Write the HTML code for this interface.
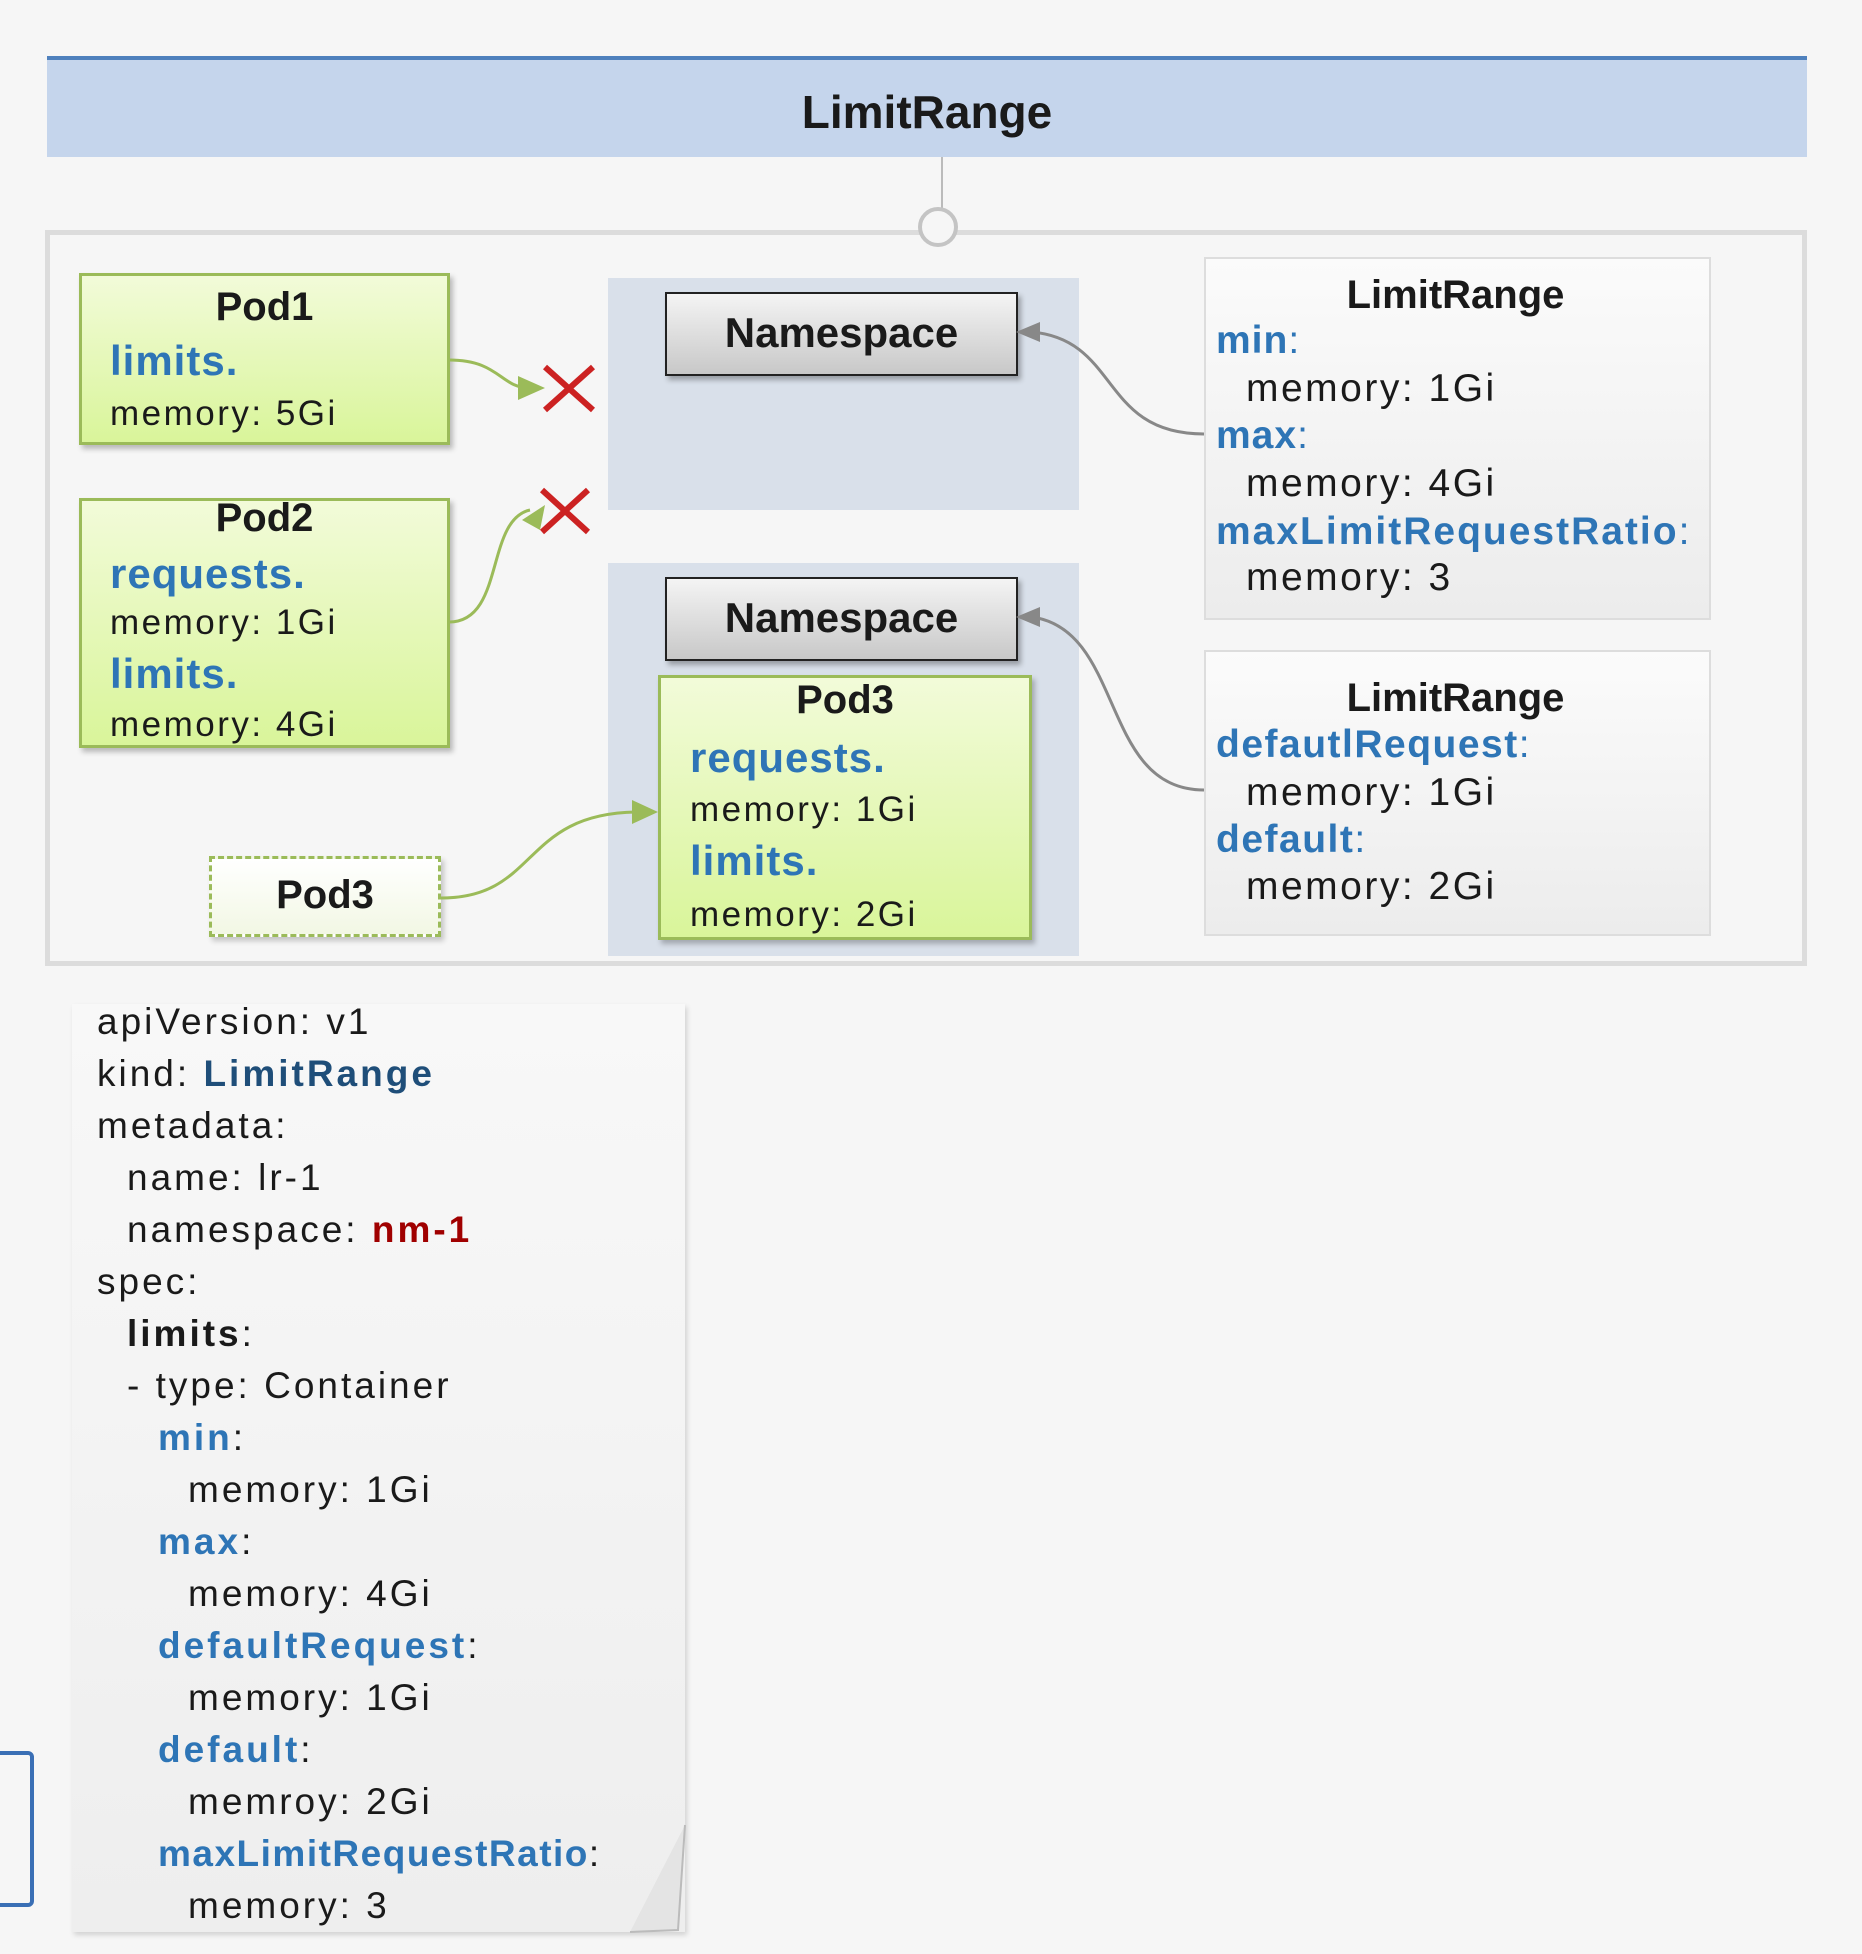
<!DOCTYPE html>
<html><head><meta charset="utf-8"><style>
body{margin:0;width:1862px;height:1954px;background:#f6f6f6;position:relative;overflow:hidden;font-family:"Liberation Sans","Noto Sans CJK KR",sans-serif;color:#1a1a1a}
.a{position:absolute}
.t{position:absolute;white-space:nowrap;line-height:48px;height:48px}
.m{letter-spacing:2.5px}
.b{color:#2e75b6;font-weight:bold}
.pod{position:absolute;border:3px solid #9bbb59;background:linear-gradient(#f2fbd9,#d9f59a);box-shadow:3px 4px 5px rgba(0,0,0,.25)}
.ns{position:absolute;border:2px solid #222;background:linear-gradient(#f4f4f4,#c8c8c8);box-shadow:3px 4px 5px rgba(0,0,0,.3);font-weight:bold;font-size:42px;text-align:center;line-height:78px}
.lr{position:absolute;border:2px solid #ddd;background:linear-gradient(#fbfbfb,#ececec)}
.y .t{letter-spacing:3px}
</style></head><body>
<div class="a" style="left:47px;top:56px;width:1760px;height:101px;background:#c5d5ec;border-top:4px solid #4f81bd;box-sizing:border-box"></div>
<div class="t" style="left:47px;width:1760px;text-align:center;top:88px;font-size:46px;font-weight:bold">LimitRange</div>
<div class="a" style="left:45px;top:230px;width:1762px;height:736px;border:5px solid #dcdcdc;box-sizing:border-box"></div>
<div class="a" style="left:941px;top:157px;width:2px;height:54px;background:#bbb"></div>
<div class="a" style="left:918px;top:207px;width:40px;height:40px;border:4px solid #c4c4c4;border-radius:50%;background:#f6f6f6;box-sizing:border-box"></div>

<div class="a" style="left:608px;top:278px;width:471px;height:232px;background:#d9e0ea"></div>
<div class="a" style="left:608px;top:563px;width:471px;height:393px;background:#d9e0ea"></div>
<div class="ns" style="left:665px;top:292px;width:349px;height:80px">Namespace</div>
<div class="ns" style="left:665px;top:577px;width:349px;height:80px">Namespace</div>

<div class="pod" style="left:79px;top:273px;width:365px;height:166px"></div>
<div class="t" style="left:79px;width:371px;text-align:center;top:283px;font-size:40px;font-weight:bold">Pod1</div>
<div class="t b m" style="left:110px;top:337px;font-size:42px;letter-spacing:1px">limits.</div>
<div class="t m" style="left:110px;top:390px;font-size:35px">memory: 5Gi</div>

<div class="pod" style="left:79px;top:498px;width:365px;height:244px"></div>
<div class="t" style="left:79px;width:371px;text-align:center;top:494px;font-size:40px;font-weight:bold">Pod2</div>
<div class="t b" style="left:110px;top:550px;font-size:42px;letter-spacing:1px">requests.</div>
<div class="t m" style="left:110px;top:599px;font-size:35px">memory: 1Gi</div>
<div class="t b" style="left:110px;top:650px;font-size:42px;letter-spacing:1px">limits.</div>
<div class="t m" style="left:110px;top:701px;font-size:35px">memory: 4Gi</div>

<div class="a" style="left:209px;top:856px;width:232px;height:81px;border:3px dashed #9bbb59;background:linear-gradient(#fff,#f2f7e4);box-sizing:border-box;box-shadow:3px 4px 5px rgba(0,0,0,.2)"></div>
<div class="t" style="left:209px;width:232px;text-align:center;top:871px;font-size:40px;font-weight:bold">Pod3</div>

<div class="pod" style="left:658px;top:675px;width:368px;height:259px"></div>
<div class="t" style="left:658px;width:374px;text-align:center;top:676px;font-size:40px;font-weight:bold">Pod3</div>
<div class="t b" style="left:690px;top:734px;font-size:42px;letter-spacing:1px">requests.</div>
<div class="t m" style="left:690px;top:786px;font-size:35px">memory: 1Gi</div>
<div class="t b" style="left:690px;top:837px;font-size:42px;letter-spacing:1px">limits.</div>
<div class="t m" style="left:690px;top:891px;font-size:35px">memory: 2Gi</div>

<div class="lr" style="left:1204px;top:257px;width:503px;height:359px"></div>
<div class="t" style="left:1204px;width:503px;text-align:center;top:271px;font-size:40px;font-weight:bold">LimitRange</div>
<div class="t b" style="left:1216px;top:317px;font-size:39px;letter-spacing:1px">min<span style="font-weight:normal">:</span></div>
<div class="t m" style="left:1246px;top:365px;font-size:39px">memory: 1Gi</div>
<div class="t b" style="left:1216px;top:412px;font-size:39px;letter-spacing:1px">max<span style="font-weight:normal">:</span></div>
<div class="t m" style="left:1246px;top:460px;font-size:39px">memory: 4Gi</div>
<div class="t b" style="left:1216px;top:508px;font-size:39px;letter-spacing:2px">maxLimitRequestRatio<span style="font-weight:normal">:</span></div>
<div class="t m" style="left:1246px;top:554px;font-size:39px">memory: 3</div>

<div class="lr" style="left:1204px;top:650px;width:503px;height:282px"></div>
<div class="t" style="left:1204px;width:503px;text-align:center;top:674px;font-size:40px;font-weight:bold">LimitRange</div>
<div class="t b" style="left:1216px;top:721px;font-size:39px;letter-spacing:1.5px">defautlRequest<span style="font-weight:normal">:</span></div>
<div class="t m" style="left:1246px;top:769px;font-size:39px">memory: 1Gi</div>
<div class="t b" style="left:1216px;top:816px;font-size:39px;letter-spacing:1.5px">default<span style="font-weight:normal">:</span></div>
<div class="t m" style="left:1246px;top:863px;font-size:39px">memory: 2Gi</div>

<svg class="a" style="left:0;top:0" width="1862" height="1000">
<g fill="none" stroke-width="3">
<path d="M449,360 C500,360 500,388 530,388" stroke="#9bbb59"/>
<path d="M449,622 C505,622 485,520 530,510" stroke="#9bbb59"/>
<path d="M441,898 C540,898 520,812 640,812" stroke="#9bbb59"/>
<path d="M1204,434 C1100,434 1120,340 1032,332" stroke="#888"/>
<path d="M1204,790 C1100,790 1125,630 1032,617" stroke="#888"/>
</g>
<path d="M518,376 L545,388 L518,400z" fill="#9bbb59"/>
<path d="M522,520 L545,505 L540,530z" fill="#9bbb59"/>
<path d="M632,800 L658,812 L632,824z" fill="#9bbb59"/>
<path d="M1040,322 L1016,332 L1040,342z" fill="#888"/>
<path d="M1040,607 L1016,617 L1040,627z" fill="#888"/>
<g stroke="#cc2222" stroke-width="6">
<line x1="545" y1="367" x2="593" y2="410"/><line x1="593" y1="367" x2="545" y2="410"/>
<line x1="542" y1="490" x2="588" y2="532"/><line x1="588" y1="490" x2="542" y2="532"/>
</g>
</svg>

<div class="a" style="left:72px;top:1004px;width:613px;height:928px;background:linear-gradient(#f8f8f8,#eeeeee);box-shadow:2px 3px 5px rgba(0,0,0,.15)"></div>
<svg class="a" style="left:630px;top:1820px" width="60" height="115"><path d="M55,5 L48,110 L0,112" fill="#e4e4e4" stroke="#bbb" stroke-width="2"/></svg>
<div class="y" style="position:absolute;left:0;top:998px;font-size:37px">
<div class="t" style="left:97px;top:0">apiVersion: v1</div>
<div class="t" style="left:97px;top:52px">kind: <b style="color:#1f4e79">LimitRange</b></div>
<div class="t" style="left:97px;top:104px">metadata:</div>
<div class="t" style="left:127px;top:156px">name: lr-1</div>
<div class="t" style="left:127px;top:208px">namespace: <b style="color:#a00000">nm-1</b></div>
<div class="t" style="left:97px;top:260px">spec:</div>
<div class="t" style="left:127px;top:312px"><b>limits</b>:</div>
<div class="t" style="left:127px;top:364px">- type: Container</div>
<div class="t" style="left:158px;top:416px"><b style="color:#2e75b6">min</b>:</div>
<div class="t" style="left:188px;top:468px">memory: 1Gi</div>
<div class="t" style="left:158px;top:520px"><b style="color:#2e75b6">max</b>:</div>
<div class="t" style="left:188px;top:572px">memory: 4Gi</div>
<div class="t" style="left:158px;top:624px"><b style="color:#2e75b6">defaultRequest</b>:</div>
<div class="t" style="left:188px;top:676px">memory: 1Gi</div>
<div class="t" style="left:158px;top:728px"><b style="color:#2e75b6">default</b>:</div>
<div class="t" style="left:188px;top:780px">memroy: 2Gi</div>
<div class="t" style="left:158px;top:832px;letter-spacing:1.5px"><b style="color:#2e75b6">maxLimitRequestRatio</b>:</div>
<div class="t" style="left:188px;top:884px">memory: 3</div>
</div>
<div class="a" style="left:-10px;top:1751px;width:44px;height:156px;border:4px solid #3a6fb5;border-radius:6px;box-sizing:border-box"></div>
</body></html>
